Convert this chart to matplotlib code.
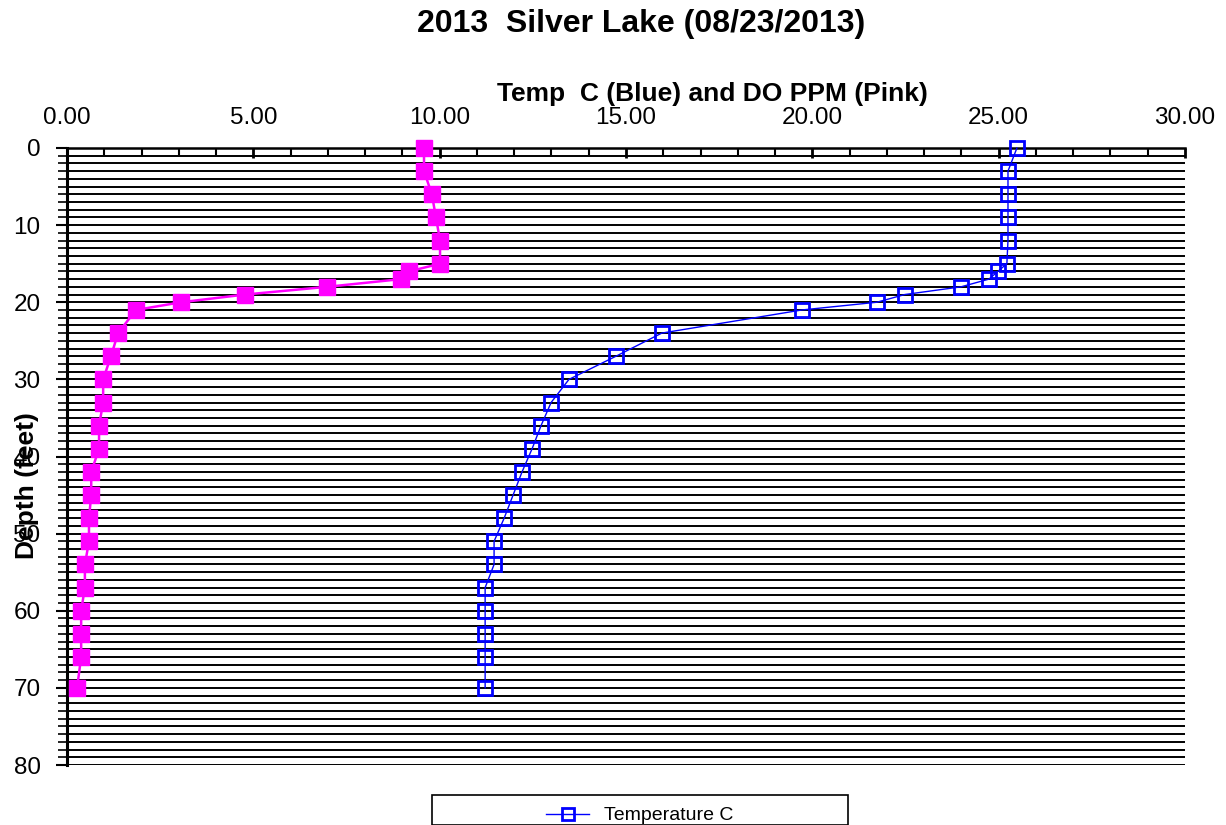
import matplotlib.pyplot as plt
from matplotlib.patches import Rectangle
from matplotlib.ticker import MultipleLocator, FormatStrFormatter

plt.rcParams['font.family'] = ['Liberation Sans', 'DejaVu Sans']

# depth in feet
depth = [0, 3, 6, 9, 12, 15, 16, 17, 18, 19, 20, 21, 24, 27, 30, 33, 36,
         39, 42, 45, 48, 51, 54, 57, 60, 63, 66, 70]
# temperature, deg C
temp_c = [25.49, 25.25, 25.25, 25.25, 25.25, 25.22, 24.98, 24.74, 23.99,
          22.48, 21.73, 19.72, 15.96, 14.73, 13.47, 12.99, 12.72, 12.48,
          12.21, 11.97, 11.73, 11.46, 11.46, 11.22, 11.22, 11.22, 11.22, 11.22]
# dissolved oxygen, ppm
do_ppm = [9.58, 9.58, 9.79, 9.90, 10.01, 10.01, 9.18, 8.96, 6.98, 4.78,
          3.06, 1.85, 1.37, 1.18, 0.97, 0.97, 0.86, 0.86, 0.65, 0.65, 0.59,
          0.59, 0.48, 0.48, 0.38, 0.38, 0.38, 0.27]

W, H = 1226, 825
fig = plt.figure(figsize=(W / 100, H / 100), dpi=100)
ax = fig.add_axes([67 / W, 1 - 765 / H, (1185 - 67) / W, (765 - 148) / H])

temp_line, = ax.plot(temp_c, depth, color='#0000FF', lw=1.0, marker='s',
                     ms=10.5, mfc='none', mec='#0000FF', mew=2.0,
                     label='Temperature C', zorder=4, clip_on=False)
ax.plot(do_ppm, depth, color='#FF00FF', lw=1.8, marker='s', ms=11.5,
        mfc='#FF00FF', mec='#FF00FF', label='DO PPM', zorder=4,
        clip_on=False)

ax.set_xlim(0, 30)
ax.set_ylim(80, 0)

ax.xaxis.set_major_locator(MultipleLocator(5))
ax.xaxis.set_minor_locator(MultipleLocator(1))
ax.xaxis.set_major_formatter(FormatStrFormatter('%.2f'))
ax.yaxis.set_major_locator(MultipleLocator(10))
ax.yaxis.set_minor_locator(MultipleLocator(1))

ax.xaxis.tick_top()
ax.tick_params(axis='x', which='major', direction='in', length=7, width=2,
               labelsize=17.5, pad=14, top=True, bottom=False)
ax.tick_params(axis='x', which='minor', direction='in', length=5, width=1.5,
               top=True, bottom=False)
ax.tick_params(axis='y', which='major', direction='out', length=8, width=1.5,
               labelsize=17.5, pad=11)
ax.tick_params(axis='y', which='minor', direction='out', length=6.5, width=1.2)

ax.grid(True, axis='y', which='both', color='black', lw=1.4)
ax.set_axisbelow(True)

for s in ['right', 'bottom']:
    ax.spines[s].set_visible(False)
ax.spines['left'].set_linewidth(2.2)
ax.spines['top'].set_linewidth(1.8)

fig.text(641 / W, 1 - 24 / H, '2013  Silver Lake (08/23/2013)',
         ha='center', va='center', fontsize=23, fontweight='bold')
fig.text(712 / W, 1 - 94 / H, 'Temp  C (Blue) and DO PPM (Pink)',
         ha='center', va='center', fontsize=19, fontweight='bold')
fig.text(27 / W, 1 - 486 / H, 'Depth (feet)', rotation=90,
         ha='center', va='center', fontsize=19, fontweight='bold')

# legend box runs past the bottom edge; only its first entry is in view
fig.patches.append(Rectangle((432 / W, 0), (848 - 432) / W, 1 - 795 / H,
                             transform=fig.transFigure, fill=False,
                             edgecolor='black', lw=1.2))
fig.legend(handles=[temp_line], loc='upper center',
           bbox_to_anchor=(640 / W, 1 - 797 / H), frameon=False,
           fontsize=14, handlelength=2.2, borderpad=0.0, markerscale=0.8)

fig.savefig('out.png', dpi=100)
